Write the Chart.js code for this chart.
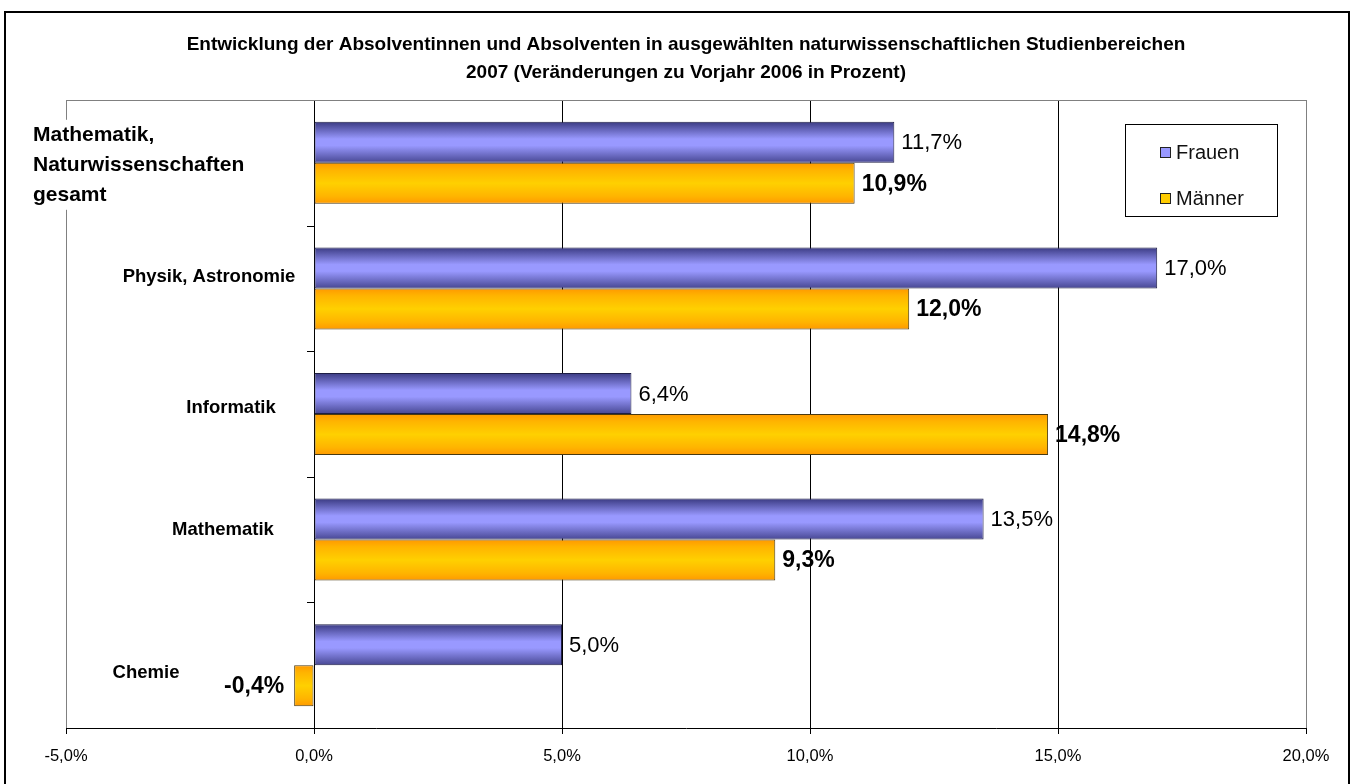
<!DOCTYPE html>
<html>
<head>
<meta charset="utf-8">
<script src="https://cdn.jsdelivr.net/npm/chart.js@4"></script>
<style>
html,body{margin:0;padding:0;background:#fff;}
#wrap{width:1353px;height:784px;}
</style>
</head>
<body>
<div id="wrap"><canvas id="c" width="1353" height="784"></canvas></div>
<script>
// ---- data ----
const categories = [
  ['Mathematik,', 'Naturwissenschaften', 'gesamt'],
  'Physik, Astronomie',
  'Informatik',
  'Mathematik',
  'Chemie'
];
const seriesNames = ['Frauen', 'Männer'];
const frauen = [11.7, 17.0, 6.4, 13.5, 5.0];
const maenner = [10.9, 12.0, 14.8, 9.3, -0.4];
const xMin = -5, xMax = 20, xStep = 5;
const titleLines = [
  'Entwicklung der Absolventinnen und Absolventen in ausgewählten naturwissenschaftlichen Studienbereichen',
  '2007 (Veränderungen zu Vorjahr 2006 in Prozent)'
];

// ---- styles ----
const FONT = "'Liberation Sans', Arial, sans-serif";
const fmt = v => v.toFixed(1).replace('.', ',') + '%';
const seriesStyle = [
  { stops: [[0, '#3a3a82'], [0.42, '#9999ff'], [0.58, '#9999ff'], [1, '#474792']], border: '#1e1e46', legend: '#9999ff', labelFont: '22px ' + FONT },
  { stops: [[0, '#ff9900'], [0.18, '#ffb400'], [0.5, '#ffd000'], [0.82, '#ffb400'], [1, '#ff9900']], border: '#4a3a10', legend: '#ffcc00', labelFont: 'bold 23px ' + FONT }
];
// category label layout (offset from group centre)
const catLabelStyle = [
  { x: 33, align: 'left', dy: 2, size: 21, lh: 30, bg: true },
  { x: 209, align: 'center', dy: -11, size: 18.5 },
  { x: 231, align: 'center', dy: -6, size: 18.5 },
  { x: 223, align: 'center', dy: -10, size: 18.5 },
  { x: 146, align: 'center', dy: 8, size: 18.5 }
];

const decorPlugin = {
  id: 'decor',
  beforeDraw(chart) {
    const ctx = chart.ctx;
    ctx.save();
    ctx.fillStyle = '#fff';
    ctx.fillRect(0, 0, chart.width, chart.height);
    ctx.restore();
  },
  beforeDatasetsDraw(chart) {
    const ctx = chart.ctx, ca = chart.chartArea;
    ctx.save();
    ctx.strokeStyle = '#808080';
    ctx.lineWidth = 1;
    ctx.beginPath();
    ctx.moveTo(ca.left, ca.top + 0.5);
    ctx.lineTo(ca.right, ca.top + 0.5);
    ctx.stroke();
    ctx.restore();
    // gradients per bar
    chart.data.datasets.forEach((ds, di) => {
      const meta = chart.getDatasetMeta(di);
      const st = seriesStyle[di];
      meta.data.forEach(el => {
        const h = el.height;
        const g = ctx.createLinearGradient(0, el.y - h / 2, 0, el.y + h / 2);
        st.stops.forEach(s => g.addColorStop(s[0], s[1]));
        el.options = Object.assign({}, el.options, { backgroundColor: g });
      });
    });
  },
  afterDatasetsDraw(chart) {
    const ctx = chart.ctx;
    const xs = chart.scales.x, ys = chart.scales.y;
    const x0 = xs.getPixelForValue(0);
    ctx.save();
    // boundary ticks on category axis
    ctx.strokeStyle = '#000';
    ctx.lineWidth = 1;
    for (let i = 0; i < categories.length - 1; i++) {
      const yb = Math.round((ys.getPixelForValue(i) + ys.getPixelForValue(i + 1)) / 2) + 0.5;
      ctx.beginPath();
      ctx.moveTo(x0 - 7, yb);
      ctx.lineTo(x0, yb);
      ctx.stroke();
    }
    // category labels
    categories.forEach((cat, i) => {
      const st = catLabelStyle[i];
      const lines = Array.isArray(cat) ? cat : [cat];
      const lh = st.lh || st.size * 1.2;
      const yc = ys.getPixelForValue(i) + st.dy;
      ctx.font = 'bold ' + st.size + 'px ' + FONT;
      ctx.textBaseline = 'middle';
      ctx.textAlign = st.align;
      const y1 = yc - (lines.length - 1) * lh / 2;
      if (st.bg) {
        let w = 0;
        lines.forEach(l => { w = Math.max(w, ctx.measureText(l).width); });
        ctx.fillStyle = '#fff';
        ctx.fillRect(st.x - 3, y1 - lh / 2, w + 6, lh * lines.length);
      }
      ctx.fillStyle = '#000';
      lines.forEach((l, k) => ctx.fillText(l, st.x, y1 + k * lh));
    });
    // data labels
    chart.data.datasets.forEach((ds, di) => {
      const meta = chart.getDatasetMeta(di);
      ctx.font = seriesStyle[di].labelFont;
      ctx.fillStyle = '#000';
      ctx.textBaseline = 'middle';
      meta.data.forEach((el, j) => {
        const v = ds.data[j];
        if (v >= 0) {
          ctx.textAlign = 'left';
          ctx.fillText(fmt(v), el.x + 7, el.y + 1);
        } else {
          ctx.textAlign = 'right';
          ctx.fillText(fmt(v), el.x - 10, el.y + 1);
        }
      });
    });
    // legend
    const lx = 1125, ly = 124, lw = 152, lhgt = 92;
    ctx.strokeStyle = '#000';
    ctx.lineWidth = 1;
    ctx.strokeRect(lx + 0.5, ly + 0.5, lw, lhgt);
    ctx.font = '20px ' + FONT;
    ctx.textAlign = 'left';
    ctx.textBaseline = 'middle';
    chart.data.datasets.forEach((ds, di) => {
      const yy = ly + 28 + di * 46;
      ctx.fillStyle = seriesStyle[di].legend;
      ctx.fillRect(lx + 35, yy - 5, 11, 11);
      ctx.strokeStyle = '#222';
      ctx.strokeRect(lx + 35.5, yy - 4.5, 10, 10);
      ctx.fillStyle = '#111';
      ctx.fillText(ds.label, lx + 51, yy + 1);
    });
    // outer frame
    ctx.strokeStyle = '#000';
    ctx.lineWidth = 2;
    ctx.strokeRect(5, 12, 1344, 790);
    ctx.restore();
  }
};

new Chart(document.getElementById('c'), {
  type: 'bar',
  data: {
    labels: categories,
    datasets: [
      { label: seriesNames[0], data: frauen, borderColor: seriesStyle[0].border, backgroundColor: seriesStyle[0].legend, borderWidth: 1, borderSkipped: false },
      { label: seriesNames[1], data: maenner, borderColor: seriesStyle[1].border, backgroundColor: seriesStyle[1].legend, borderWidth: 1, borderSkipped: false }
    ]
  },
  options: {
    indexAxis: 'y',
    responsive: false,
    animation: false,
    events: [],
    categoryPercentage: 0.653,
    barPercentage: 1.0,
    layout: { padding: { left: 66, right: 47, top: 0, bottom: 0 } },
    plugins: {
      legend: { display: false },
      tooltip: { enabled: false },
      title: {
        display: true,
        text: titleLines,
        color: '#000',
        font: { family: FONT, size: 19, weight: 'bold', lineHeight: 28 / 19 },
        padding: { top: 31, bottom: 13 }
      }
    },
    scales: {
      x: {
        min: xMin, max: xMax,
        ticks: {
          stepSize: xStep,
          callback: v => fmt(v),
          color: '#000',
          font: { family: FONT, size: 16.5 },
          padding: 13,
          maxRotation: 0
        },
        grid: {
          color: c => (c.tick && (c.tick.value === xMin || c.tick.value === xMax)) ? '#808080' : '#000',
          tickColor: '#000',
          lineWidth: 1,
          tickLength: 6,
          drawTicks: true
        },
        border: { color: '#000', width: 1 },
        afterFit: s => { s.height = 56; }
      },
      y: {
        display: false,
        offset: true
      }
    }
  },
  plugins: [decorPlugin]
});
</script>
</body>
</html>
